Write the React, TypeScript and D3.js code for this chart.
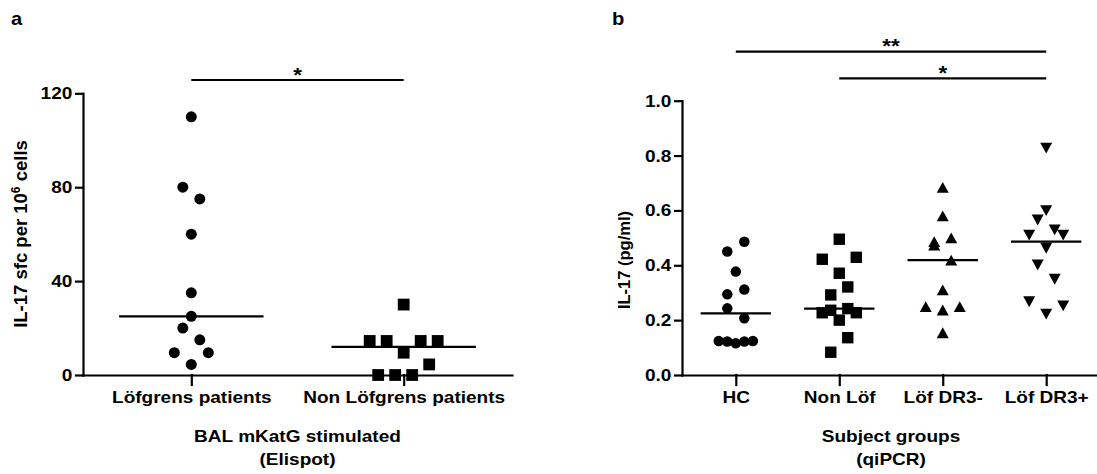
import React, { useRef, useEffect } from "react";
import * as d3 from "d3";

// panel a – Elispot
const elispotGroups = ["Löfgrens patients", "Non Löfgrens patients"];
const lofgrens = [110, 80, 75, 60, 35, 25, 20, 15, 9.5, 4.5, 9.5];
const nonLofgrens = [30, 14.5, 14.5, 9.5, 14.5, 14.5, 0, 0, 0, 4.5];
const elispotTicks = [0, 40, 80, 120];
const elispotSig = [{ from: "Löfgrens patients", to: "Non Löfgrens patients", label: "*" }];

// panel b – qiPCR
const subjectGroups = ["HC", "Non Löf", "Löf DR3-", "Löf DR3+"];
const hc = [0.45, 0.486, 0.377, 0.294, 0.312, 0.243, 0.207, 0.124, 0.122, 0.116, 0.122, 0.124];
const nonLof = [0.495, 0.422, 0.371, 0.429, 0.292, 0.321, 0.227, 0.236, 0.2, 0.242, 0.227, 0.083, 0.136];
const lofDR3neg = [0.684, 0.58, 0.486, 0.5, 0.474, 0.419, 0.31, 0.249, 0.237, 0.249, 0.154];
const lofDR3pos = [0.827, 0.599, 0.565, 0.529, 0.51, 0.462, 0.51, 0.401, 0.349, 0.267, 0.222, 0.252];
const qpcrTicks = [0, 0.2, 0.4, 0.6, 0.8, 1.0];
const qpcrSig = [
  { from: "Non Löf", to: "Löf DR3+", label: "*" },
  { from: "HC", to: "Löf DR3+", label: "**" },
];

const FONT = "'Liberation Sans', Arial, Helvetica, sans-serif";
const SX = 1.12; // the figure is slightly stretched horizontally

function markerPath(shape, size) {
  const h = size / 2;
  if (shape === "circle") return d3.symbol(d3.symbolCircle, Math.PI * h * h)();
  if (shape === "square") return `M${-h},${-h}H${h}V${h}H${-h}Z`;
  if (shape === "up") return `M0,${-h * 0.9}L${h},${h * 0.9}L${-h},${h * 0.9}Z`;
  return `M0,${h * 0.9}L${h},${-h * 0.9}L${-h},${-h * 0.9}Z`;
}

// GraphPad-like column scatter: rows built from the bottom, spread symmetrically
function swarm(values, y, rowH, step, maxSpan) {
  const order = d3.range(values.length).sort((a, b) => y(values[b]) - y(values[a]) || a - b);
  const offsets = new Array(values.length).fill(0);
  let i = 0;
  while (i < order.length) {
    const start = y(values[order[i]]);
    const row = [order[i]];
    let j = i + 1;
    while (j < order.length && start - y(values[order[j]]) < rowH) {
      row.push(order[j]);
      j++;
    }
    row.sort((a, b) => a - b);
    const n = row.length;
    const s = n > 1 ? Math.min(step, maxSpan / (n - 1)) : 0;
    row.forEach((idx, k) => (offsets[idx] = (k - (n - 1) / 2) * s));
    i = j;
  }
  return offsets;
}

function stretchedText(g, x, y, txt, size) {
  return g
    .append("text")
    .attr("transform", `translate(${x},${y}) scale(${SX},1)`)
    .attr("text-anchor", "middle")
    .attr("font-family", FONT)
    .attr("font-weight", "bold")
    .attr("font-size", size)
    .attr("fill", "#000")
    .text(txt);
}

function drawPanel(svg, p) {
  const x = d3.scalePoint().domain(p.groups).range(p.xRange).padding(p.padding);
  const y = d3.scaleLinear().domain(p.yDomain).range(p.yRange);
  const g = svg.append("g");

  const yAxis = g
    .append("g")
    .attr("transform", `translate(${p.xRange[0]},0)`)
    .call(d3.axisLeft(y).tickValues(p.ticks).tickFormat(p.format).tickSize(7).tickSizeOuter(0).tickPadding(2.5));
  const xAxis = g
    .append("g")
    .attr("transform", `translate(0,${p.yRange[0]})`)
    .call(d3.axisBottom(x).tickSize(10).tickSizeOuter(0).tickPadding(6));

  [yAxis, xAxis].forEach((a) => {
    a.selectAll("path, line").attr("stroke", "#000").attr("stroke-width", 2.2).attr("stroke-linecap", "square");
    a.selectAll("text")
      .attr("fill", "#000")
      .attr("font-family", FONT)
      .attr("font-weight", "bold")
      .attr("font-size", 17)
      .attr("transform", `scale(${SX},1)`);
  });

  const band = x.step();
  p.series.forEach((vals, gi) => {
    const cx = x(p.groups[gi]);
    const off = swarm(vals, y, 17, 17, band * 0.33);
    g.append("g")
      .selectAll("path")
      .data(vals)
      .join("path")
      .attr("d", markerPath(p.shapes[gi], p.sizes[gi]))
      .attr("transform", (v, i) => `translate(${cx + off[i]},${y(v)})`)
      .attr("fill", "#000");
    const med = d3.median(vals);
    g.append("line")
      .attr("x1", cx - band * 0.34)
      .attr("x2", cx + band * 0.34)
      .attr("y1", y(med))
      .attr("y2", y(med))
      .attr("stroke", "#000")
      .attr("stroke-width", 2.3);
  });

  p.sig.forEach((s, k) => {
    const x1 = x(s.from);
    const x2 = x(s.to);
    const ly = p.sigY[k];
    g.append("line")
      .attr("x1", x1)
      .attr("x2", x2)
      .attr("y1", ly)
      .attr("y2", ly)
      .attr("stroke", "#000")
      .attr("stroke-width", 2.2);
    stretchedText(g, (x1 + x2) / 2, ly + 1.5, s.label, 20);
  });

  const tx = (x(p.groups[0]) + x(p.groups[p.groups.length - 1])) / 2;
  stretchedText(g, tx, 442, p.title[0], 17);
  stretchedText(g, tx, 465, p.title[1], 17);

  const yl = g
    .append("text")
    .attr("transform", `translate(${p.yLabelPos[0]},${p.yLabelPos[1]}) rotate(-90)`)
    .attr("text-anchor", "middle")
    .attr("font-family", FONT)
    .attr("font-weight", "bold")
    .attr("font-size", p.yLabelSize)
    .attr("fill", "#000");
  p.yLabel(yl);

  g.append("text")
    .attr("transform", `translate(${p.letterX},25) scale(${SX},1)`)
    .attr("font-family", FONT)
    .attr("font-weight", "bold")
    .attr("font-size", 18)
    .attr("fill", "#000")
    .text(p.letter);
}

export default function App() {
  const ref = useRef(null);
  useEffect(() => {
    const svg = d3.select(ref.current);
    svg.selectAll("*").remove();

    drawPanel(svg, {
      groups: elispotGroups,
      series: [lofgrens, nonLofgrens],
      shapes: ["circle", "square"],
      sizes: [11, 11.8],
      ticks: elispotTicks,
      format: d3.format("d"),
      xRange: [83, 512],
      padding: 0.51,
      yDomain: [0, 120],
      yRange: [375, 93.3],
      sig: elispotSig,
      sigY: [80],
      title: ["BAL mKatG stimulated", "(Elispot)"],
      yLabelPos: [26.5, 234],
      yLabelSize: 18.5,
      yLabel: (t) => {
        t.append("tspan").text("IL-17 sfc per 10");
        t.append("tspan").attr("dy", -7).attr("font-size", 12).text("6");
        t.append("tspan").attr("dy", 7).text(" cells");
      },
      letter: "a",
      letterX: 11,
    });

    drawPanel(svg, {
      groups: subjectGroups,
      series: [hc, nonLof, lofDR3neg, lofDR3pos],
      shapes: ["circle", "square", "up", "down"],
      sizes: [10.5, 11.4, 12, 12],
      ticks: qpcrTicks,
      format: d3.format(".1f"),
      xRange: [682, 1100],
      padding: 0.52,
      yDomain: [0, 1],
      yRange: [375, 100.7],
      sig: qpcrSig,
      sigY: [78.3, 51.7],
      title: ["Subject groups", "(qiPCR)"],
      yLabelPos: [629.5, 260],
      yLabelSize: 16.5,
      yLabel: (t) => t.text("IL-17 (pg/ml)"),
      letter: "b",
      letterX: 612,
    });
  }, []);

  return (
    <svg
      ref={ref}
      width={1097}
      height={474}
      style={{ position: "absolute", left: 0, top: 0, background: "#fff" }}
    />
  );
}
